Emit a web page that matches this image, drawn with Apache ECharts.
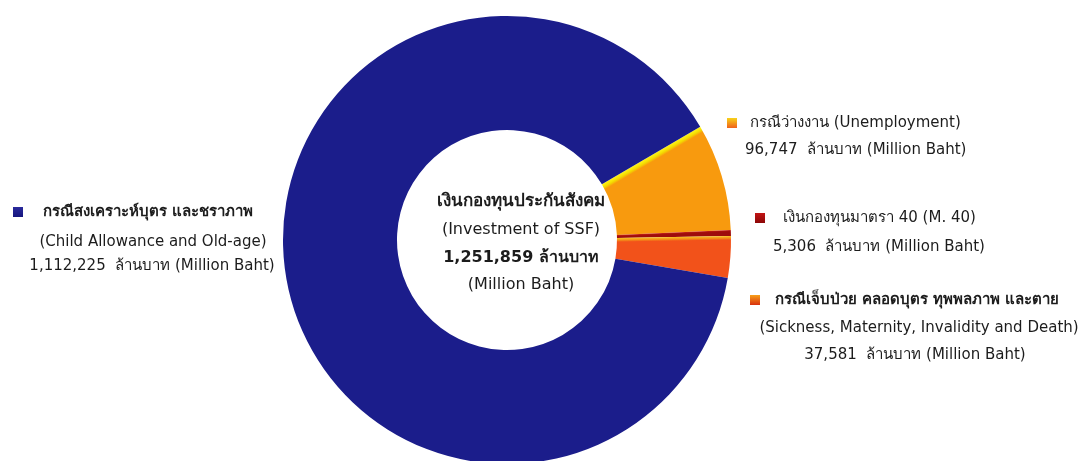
<!DOCTYPE html>
<html>
<head>
<meta charset="utf-8">
<script src="https://cdn.jsdelivr.net/npm/echarts@6/dist/echarts.min.js"></script>
<style>
  html, body { margin: 0; padding: 0; background: #ffffff; }
  #chart { width: 1082px; height: 461px; }
</style>
</head>
<body>
<div id="chart"></div>
<script>
// Social Security Fund investment by benefit type (million baht)
const namesTh = [
  'กรณีว่างงาน',
  'เงินกองทุนมาตรา 40',
  'กรณีเจ็บป่วย คลอดบุตร ทุพพลภาพ และตาย',
  'กรณีสงเคราะห์บุตร และชราภาพ'
];
const namesEn = [
  'Unemployment',
  'M. 40',
  'Sickness, Maternity, Invalidity and Death',
  'Child Allowance and Old-age'
];
const values = [96747, 5306, 37581, 1112225];
const totalTitleTh = 'เงินกองทุนประกันสังคม';
const totalTitleEn = 'Investment of SSF';
const unitTh = 'ล้านบาท';
const unitEn = 'Million Baht';

const FONT = '"DejaVu Sans", "Noto Sans", sans-serif';
const TEXT = '#1c1c1c';
const CX = 507, CY = 240, R_IN = 110, R_OUT = 224;
const START = 30.4;

const fmt = v => v.toLocaleString('en-US');
const total = values.reduce((a, b) => a + b, 0);

// base colours and edge highlight per slice
const sliceStyle = [
  { base: '#f89a0e', edge: ['#fff41a', '#f4dc00'], w: 6 },
  { base: '#9e0c0c', edge: ['#c8281a', '#a80e0e'], w: 2 },
  { base: '#f2521a', edge: ['#f7c420', '#f39018'], w: 4 },
  { base: '#1b1d8b', edge: null, w: 0 }
];

// gradient that lights the leading (counter-clockwise) edge of each slice
function edgeGradient(i, angleDeg) {
  const s = sliceStyle[i];
  if (!s.edge) return s.base;
  const a = angleDeg * Math.PI / 180;
  const rm = (R_IN + R_OUT) / 2;
  const x0 = CX + rm * Math.cos(a), y0 = CY - rm * Math.sin(a);
  const x1 = x0 + s.w * Math.sin(a), y1 = y0 + s.w * Math.cos(a);
  return new echarts.graphic.LinearGradient(x0, y0, x1, y1, [
    { offset: 0, color: s.edge[0] },
    { offset: 0.55, color: s.edge[1] },
    { offset: 1, color: s.base }
  ], true);
}

let acc = START;
const pieData = values.map((v, i) => {
  const item = {
    name: namesEn[i],
    value: v,
    itemStyle: { color: edgeGradient(i, acc) }
  };
  acc -= v / total * 360;
  return item;
});

// legend-style annotations next to the ring
const markerColors = [
  ['#f7d21a', '#f0601a'],
  ['#c21414', '#8c0808'],
  ['#f7a01a', '#d8300e'],
  ['#2a2a9c', '#16167e']
];
const valueLine = i => fmt(values[i]) + '  ' + unitTh + ' (' + unitEn + ')';
const labelLines = [
  [namesTh[0] + ' (' + namesEn[0] + ')', valueLine(0)],
  [namesTh[1] + ' (' + namesEn[1] + ')', valueLine(1)],
  [namesTh[2], '(' + namesEn[2] + ')', valueLine(2)],
  [namesTh[3], '(' + namesEn[3] + ')', valueLine(3)]
];
const labelPlace = [
  { marker: [727, 118], lines: [[750, 123, 'left'], [745, 150, 'left']] },
  { marker: [755, 213], lines: [[783, 218, 'left'], [773, 247, 'left']] },
  { marker: [750, 295], lines: [[917, 300, 'center'], [919, 328, 'center'], [915, 355, 'center']] },
  { marker: [13, 207], lines: [[148, 212, 'center'], [153, 242, 'center'], [152, 266, 'center']] }
];

const graphics = [];
labelPlace.forEach((p, i) => {
  graphics.push({
    type: 'rect',
    shape: { x: p.marker[0], y: p.marker[1], width: 10, height: 10 },
    style: {
      fill: new echarts.graphic.LinearGradient(0, 0, 0, 1, [
        { offset: 0, color: markerColors[i][0] },
        { offset: 1, color: markerColors[i][1] }
      ])
    },
    silent: true
  });
  p.lines.forEach((ln, j) => {
    const isThaiHead = j === 0 && labelLines[i].length === 3;
    graphics.push({
      type: 'text',
      x: ln[0], y: ln[1],
      style: {
        text: labelLines[i][j],
        fill: TEXT,
        font: (isThaiHead ? '600 ' : '400 ') + '15px ' + FONT,
        textAlign: ln[2],
        textVerticalAlign: 'middle'
      },
      silent: true
    });
  });
});

// centre caption inside the hole
const centreLines = [
  [totalTitleTh, '700 17px '],
  ['(' + totalTitleEn + ')', '400 16px '],
  [fmt(total) + ' ' + unitTh, '600 16px '],
  ['(' + unitEn + ')', '400 16px ']
];
centreLines.forEach((c, k) => {
  graphics.push({
    type: 'text',
    x: 521, y: 202 + k * 27.7,
    style: {
      text: c[0], fill: TEXT, font: c[1] + FONT,
      textAlign: 'center', textVerticalAlign: 'middle'
    },
    silent: true
  });
});

const chart = echarts.init(document.getElementById('chart'), null, { renderer: 'canvas' });
chart.setOption({
  backgroundColor: '#ffffff',
  animation: false,
  series: [{
    type: 'pie',
    center: [CX, CY],
    radius: [R_IN, R_OUT],
    startAngle: START,
    clockwise: true,
    avoidLabelOverlap: false,
    silent: true,
    label: { show: false },
    labelLine: { show: false },
    itemStyle: { borderWidth: 0 },
    data: pieData
  }],
  graphic: graphics
});
</script>
</body>
</html>
